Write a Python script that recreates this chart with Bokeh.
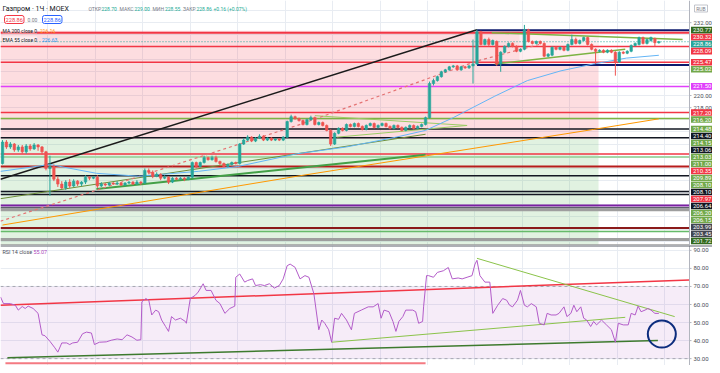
import numpy as np
from bokeh.plotting import figure
from bokeh.models import Range1d, FixedTicker, Label, Span, ColumnDataSource
from bokeh.layouts import column
from bokeh.embed import file_html
from bokeh.resources import INLINE
from bokeh.core.properties import value

FONT = "Roboto"

# ---------------- price data (hourly candles, MOEX GAZP) ----------------
opens = [208.8, 212.33, 211.53, 212.01, 211.05, 211.53, 210.73, 211.69, 211.21, 211.85,
         211.53, 210.73, 207.99, 208.31, 206.22, 205.42, 204.78, 205.74, 205.1, 205.9,
         205.42, 205.74, 206.55, 206.39, 206.55, 205.1, 205.42, 205.26, 205.58, 205.42,
         205.58, 205.26, 205.58, 205.74, 205.42, 205.74, 205.58, 207.67, 207.35, 206.71,
         207.03, 206.39, 206.55, 205.74, 206.39, 206.22, 206.39, 206.22, 206.55, 208.96,
         208.31, 208.96, 209.76, 209.44, 209.76, 209.12, 208.8, 208.31, 208.64, 208.96,
         208.8, 212.01, 212.66, 213.14, 212.5, 212.98, 213.3, 212.66, 212.98, 212.66,
         212.82, 212.66, 213.14, 215.71, 216.52, 216.2, 215.87, 215.23, 216.03, 216.36,
         215.23, 215.55, 215.07, 214.26, 212.01, 213.78, 214.59, 214.26, 215.23, 214.91,
         215.39, 214.91, 214.42, 215.07, 215.39, 214.75, 215.07, 215.39, 214.91, 214.59,
         215.07, 214.75, 214.26, 214.75, 215.07, 214.59, 214.91, 215.23, 216.36, 221.98,
         222.46, 223.11, 223.91, 224.23, 224.72, 224.88, 224.23, 224.72, 224.56, 224.88,
         225.2, 230.5, 228.41, 229.22, 228.41, 228.9, 225.2, 227.13, 228.09, 228.58,
         228.09, 227.29, 227.61, 230.83, 228.9, 228.58, 228.9, 228.58, 226.48, 226.65,
         227.93, 227.61, 227.93, 227.45, 228.41, 229.22, 228.58, 229.06, 229.54, 228.41,
         227.61, 227.29, 227.45, 227.13, 227.45, 227.13, 225.52, 227.13, 226.97, 227.29,
         228.25, 228.41, 229.54, 228.58, 229.06, 229.38, 228.70]
closes = [212.33, 211.53, 212.01, 211.05, 211.53, 210.73, 211.69, 211.21, 211.85, 211.53,
          210.73, 207.99, 208.31, 206.22, 205.42, 204.78, 205.74, 205.1, 205.9, 205.42,
          205.74, 206.55, 206.39, 206.55, 205.1, 205.42, 205.26, 205.58, 205.42, 205.58,
          205.26, 205.58, 205.74, 205.42, 205.74, 205.58, 207.67, 207.35, 206.71, 207.03,
          206.39, 206.55, 205.74, 206.39, 206.22, 206.39, 206.22, 206.55, 208.96, 208.31,
          208.96, 209.76, 209.44, 209.76, 209.12, 208.8, 208.31, 208.64, 208.96, 208.8,
          212.01, 212.66, 213.14, 212.5, 212.98, 213.3, 212.66, 212.98, 212.66, 212.82,
          212.66, 213.14, 215.71, 216.52, 216.2, 215.87, 215.23, 216.03, 216.36, 215.23,
          215.55, 215.07, 214.26, 212.01, 213.78, 214.59, 214.26, 215.23, 214.91, 215.39,
          214.91, 214.42, 215.07, 215.39, 214.75, 215.07, 215.39, 214.91, 214.59, 215.07,
          214.75, 214.26, 214.75, 215.07, 214.59, 214.91, 215.23, 216.36, 221.98, 222.46,
          223.11, 223.91, 224.23, 224.72, 224.88, 224.23, 224.72, 224.56, 224.88, 225.2,
          230.5, 228.41, 229.22, 228.41, 229.06, 225.2, 227.13, 228.09, 228.58, 228.09,
          227.29, 227.61, 230.83, 228.9, 228.58, 228.9, 228.58, 226.48, 226.81, 227.93,
          227.61, 227.93, 227.45, 228.41, 229.22, 228.58, 229.06, 229.54, 228.41, 227.61,
          227.29, 227.45, 227.13, 227.45, 227.13, 225.52, 227.13, 226.97, 227.29, 228.25,
          228.58, 229.54, 228.58, 229.22, 229.54, 228.70, 228.86]
highs = [212.66, 212.66, 212.33, 212.17, 211.85, 211.85, 212.01, 212.01, 212.17, 212.01,
         211.69, 210.89, 210.09, 208.64, 206.71, 205.9, 206.06, 206.22, 206.22, 206.06,
         205.9, 206.87, 206.71, 206.71, 206.87, 205.74, 205.58, 205.74, 205.74, 205.9,
         205.74, 205.74, 205.9, 205.9, 206.06, 205.9, 207.99, 207.99, 207.67, 207.35,
         207.19, 206.87, 206.71, 206.55, 206.55, 206.55, 206.55, 206.71, 209.12, 209.12,
         209.12, 210.09, 209.93, 210.09, 210.09, 209.28, 208.96, 208.8, 209.12, 209.12,
         212.17, 212.98, 213.46, 213.3, 213.14, 213.62, 213.46, 213.14, 213.14, 212.98,
         212.98, 213.3, 215.87, 216.84, 216.68, 216.36, 216.03, 216.2, 216.68, 216.52,
         215.71, 215.71, 215.23, 214.42, 213.94, 214.75, 214.75, 215.39, 215.39, 215.55,
         215.55, 215.07, 215.23, 215.55, 215.55, 215.23, 215.55, 215.55, 215.07, 215.23,
         215.23, 214.91, 214.91, 215.23, 215.23, 215.07, 215.39, 216.52, 222.3, 222.79,
         223.27, 224.07, 224.39, 224.88, 225.04, 225.04, 224.88, 224.88, 225.04, 229.22,
         230.83, 230.67, 229.38, 229.54, 229.22, 229.06, 227.29, 228.25, 228.74, 228.74,
         228.25, 227.77, 231.63, 230.99, 229.06, 229.06, 229.06, 228.74, 226.97, 228.09,
         228.09, 228.09, 228.09, 228.58, 230.02, 229.54, 229.22, 229.7, 229.7, 228.58,
         227.77, 227.61, 227.61, 227.61, 227.61, 227.29, 227.29, 227.29, 227.45, 228.41,
         228.74, 229.7, 229.7, 229.38, 229.7, 229.54, 229.00]
lows = [208.64, 211.21, 211.21, 210.73, 210.73, 210.41, 210.41, 210.89, 211.05, 210.89,
        210.25, 207.67, 203.5, 205.9, 204.94, 204.62, 204.46, 204.78, 204.94, 205.1,
        205.1, 205.42, 206.06, 206.22, 204.78, 204.94, 205.1, 205.1, 205.26, 205.26,
        205.1, 205.1, 205.42, 205.26, 205.26, 205.26, 205.42, 207.03, 206.39, 206.55,
        206.06, 206.22, 205.42, 205.58, 206.06, 206.06, 205.9, 206.06, 206.39, 207.99,
        208.15, 208.8, 209.28, 209.28, 208.96, 208.47, 208.15, 208.15, 208.47, 208.64,
        208.64, 211.85, 212.5, 212.33, 212.33, 212.82, 212.5, 212.5, 212.5, 212.5,
        212.5, 212.5, 212.98, 215.55, 216.03, 215.71, 215.07, 215.07, 215.87, 215.07,
        215.07, 214.91, 214.1, 211.69, 211.85, 213.62, 214.1, 214.1, 214.75, 214.75,
        214.75, 214.26, 214.26, 214.91, 214.59, 214.59, 214.91, 214.75, 214.42, 214.42,
        214.59, 214.1, 214.1, 214.59, 214.42, 214.42, 214.75, 215.07, 216.2, 221.66,
        222.3, 222.95, 223.75, 224.07, 224.56, 224.07, 224.07, 224.39, 224.39, 221.98,
        225.04, 228.25, 228.25, 228.09, 228.25, 224.88, 223.91, 226.97, 227.93, 227.93,
        227.13, 227.13, 227.45, 228.74, 228.41, 228.41, 228.41, 226.32, 226.32, 226.48,
        227.45, 227.45, 227.29, 227.29, 228.25, 228.41, 228.41, 228.9, 228.25, 227.45,
        225.2, 227.13, 226.97, 226.97, 226.97, 223.27, 225.36, 226.81, 226.81, 227.13,
        228.09, 228.25, 228.41, 228.41, 228.9, 228.09, 228.55]

# moving averages (bar index, price)
ma200_x = [0, 74.5, 149.5, 166]
ma200_y = [198.67, 206.71, 214.42, 216.16]
ema55_x = [-0.5, 12, 23.75, 34.5, 49.5, 59.5, 74.5, 87, 99.5, 107, 114, 124.5, 132.75, 141.25, 149.5, 157.75, 166]
ema55_y = [207.51, 208.64, 207.19, 206.71, 207.51, 208.31, 210.41, 211.53, 213.14, 214.26, 216.36, 219.89, 222.46, 224.07, 225.2, 226.16, 226.63]

# horizontal levels drawn on the chart
lvl_price = [230.77, 230.32, 228.09, 225.47, 225.02, 221.50, 217.20, 216.20, 214.48, 213.06, 210.35, 209.89,
             208.30, 206.80, 204.20, 203.70, 201.90, 201.50, 201.20, 198.20, 197.60, 196.30, 195.40]
lvl_start = [120, -0.5, -0.5, -0.5, 120, -0.5, -0.5, -0.5, -0.5, -0.5, -0.5, -0.5,
             -0.5, -0.5, -0.5, -0.5, -0.5, -0.5, -0.5, -0.5, -0.5, -0.5, -0.5]
lvl_color = ["#0d1b6e", "#f23645", "#f23645", "#f23645", "#0d1b6e", "#e040fb", "#f23645", "#7cb342", "#131722", "#131722",
             "#f23645", "#a5d6a7", "#b71c1c", "#131722", "#131722", "#131722", "#7b1fa2", "#5d606b", "#9e9e9e",
             "#8b1a1a", "#66bb6a", "#9e9e9e", "#9e9e9e"]
lvl_width = [2, 2, 1.5, 1.5, 2, 1.5, 1.5, 1.5, 1.5, 1.5, 1.5, 2, 2, 1.5, 1.5, 1.5, 2, 1.5, 3, 2, 1.5, 3, 1.5]
last_price = 228.86

# trend lines (bar index, price)
tl_x0 = [-0.5, -0.5, 23.75, 79, 84.5, 123.75, 124.5]
tl_y0 = [206.22, 203.01, 204.62, 216.68, 213.14, 230.34, 225.2]
tl_x1 = [120, 107, 107, 117.5, 117.5, 172, 157.5]
tl_y1 = [230.83, 213.62, 210.25, 215.07, 215.07, 229.22, 227.61]
tl_color = ["#1b1b1b", "#6d8f3a", "#43a047", "#9ccc65", "#9ccc65", "#7cb342", "#7cb342"]
tl_width = [1.5, 1, 2, 1, 1, 1.5, 1.5]
dash_x = [-0.5, 74.5, 120, 135.75]
dash_y = [199.31, 215.07, 225.68, 228.41]

# short-position tool zones
pos_left, pos_right = -0.5, 150.75
pos_entry, pos_stop = 212.82, 230.67

# price-scale labels (value, background)
axis_labels = ["230.77", "230.32", "228.86", "228.09", "225.47", "225.02", "221.50", "217.20", "216.20",
               "214.48", "214.40", "214.15", "213.06", "213.03", "211.00", "210.35", "209.89", "208.10",
               "208.10", "207.97", "206.64", "206.20", "206.15", "203.99", "203.45", "201.72"]
axis_colors = ["#33691e", "#f23645", "#26a69a", "#f23645", "#f23645", "#72a84a", "#e040fb", "#f23645", "#72a84a",
               "#72a84a", "#131722", "#72a84a", "#131722", "#72a84a", "#72a84a", "#f23645", "#72a84a", "#72a84a",
               "#131722", "#f23645", "#131722", "#72a84a", "#72a84a", "#434651", "#434651", "#33691e"]
price_ticks = [232, 220, 218]

# RSI 14 (bar index, value)
rsi_x = [-0.5, 0.25, 2, 3.25, 4, 5, 5.75, 6.5, 7.75, 9, 10, 10.75, 12, 13.25, 14, 15, 16.25, 17, 17.75, 19,
         20.25, 21.25, 22.5, 23.25, 24.5, 26.25, 27.5, 29, 30.25, 31.5, 32.75, 34, 35, 35.25, 36.25, 37, 37.75,
         38.75, 39.5, 40.25, 41.25, 42, 42.75, 43.75, 45, 46.25, 46.5, 47.5, 48.75, 49.5, 50.75, 51.5, 52.75,
         54, 55, 56.25, 57.5, 58.75, 59, 60, 61.25, 62, 63.25, 64, 65.25, 66.25, 67.5, 68.75, 70, 71, 72, 72.75,
         74, 75.25, 76.5, 77.5, 78.75, 80, 80.75, 81.5, 82.5, 83.25, 84, 85, 85.75, 87, 88.25, 89, 90.75, 92.5,
         93.75, 95, 95.75, 96.5, 97.75, 98.75, 99.5, 100.25, 101.25, 102, 103.75, 104.5, 105.25, 106.25, 106.5,
         107.25, 107.75, 109, 110, 111.5, 112.75, 113.75, 115.25, 116.25, 117.5, 118.75, 119.5, 120, 120.75,
         122, 123.25, 124, 125.25, 126.5, 127.5, 128.25, 129, 130.25, 131, 132, 132.75, 133.75, 135, 135.75,
         137, 137.75, 138.75, 140, 140.75, 142, 142.75, 143.75, 144.5, 145.25, 146.25, 147, 147.75, 148.75,
         149.5, 150.25, 151.5, 152.75, 154, 155, 155.75, 157, 158.25, 159, 160, 160.75, 161.5, 162.5, 163.25,
         164, 165, 166]
rsi_v = [64.2, 60.5, 60.5, 59.6, 56.9, 58.9, 57.8, 59.1, 57.8, 55.1, 43.2, 42.7, 39.6, 36.0, 33.6, 38.7, 38.7,
         37.8, 38.7, 39.1, 43.8, 44.7, 44.2, 37.8, 39.1, 39.3, 40.2, 40.9, 40.5, 43.2, 42.0, 40.2, 40.5, 61.5,
         63.3, 62.4, 54.2, 56.9, 56.0, 51.4, 47.8, 45.1, 53.3, 51.4, 52.4, 50.6, 49.6, 63.3, 65.1, 66.9, 71.5,
         67.8, 67.8, 62.3, 60.5, 55.1, 57.8, 59.1, 75.1, 76.9, 72.4, 73.3, 74.2, 70.5, 71.0, 70.5, 71.5, 69.1,
         70.5, 74.2, 81.5, 82.4, 80.6, 74.2, 76.0, 75.1, 66.0, 46.0, 51.4, 49.6, 46.0, 39.1, 52.4, 51.8, 55.1,
         51.4, 46.0, 55.1, 56.9, 58.7, 58.7, 60.5, 52.4, 56.9, 56.0, 50.6, 45.1, 50.6, 53.3, 56.9, 56.9, 56.0,
         49.6, 50.6, 58.7, 76.0, 76.0, 75.1, 77.8, 78.7, 80.5, 74.2, 74.7, 74.2, 75.1, 76.0, 82.4, 84.5, 76.0,
         72.4, 72.4, 55.1, 59.6, 63.3, 62.4, 59.6, 58.7, 62.4, 67.8, 59.6, 58.7, 60.5, 58.7, 49.6, 48.7, 55.1,
         54.2, 54.2, 55.1, 58.7, 53.3, 55.1, 59.6, 56.0, 58.7, 52.4, 51.4, 47.8, 50.6, 48.7, 51.4, 48.7, 46.0,
         39.1, 49.6, 48.7, 48.7, 55.1, 54.2, 59.1, 56.0, 56.9, 57.8, 56.9, 55.1, 55.07]
rsi_ticks = [30, 40, 50, 60, 70, 80, 90]
# RSI trend lines (bar index, value)
rtl_x0 = [-0.5, 1.25, 83.25, 120, 0.75]
rtl_y0 = [59.6, 30.5, 39.1, 85.6, 27.5]
rtl_x1 = [173.75, 165.75, 157.5, 170, 107]
rtl_y1 = [73.6, 40.0, 52.9, 53.3, 27.5]
rtl_color = ["#f23645", "#3d7a2e", "#8bc34a", "#8bc34a", "#f47a82"]
rtl_width = [1.5, 1.5, 1, 1, 2]
circle_x, circle_y = 166.75, 43.6

# ---------------- layout constants ----------------
W = 712
AXIS_W = 23
PLOT_W = W - AXIS_W
MAIN_H = 245
RSI_H = 120
X0, X1 = -0.5, 173.75
PXX = PLOT_W / (X1 - X0)          # px per bar
XEND = X1 + AXIS_W / PXX          # right edge of the price-scale strip
P_LO, P_HI = 195.3, 235.65
R_LO, R_HI = 26.2, 92.7
UP, DN = "#26a69a", "#ef5350"
GRID = "#e8ecf2"
AXC = "#b2b5be"
TXT = "#4a4e59"
grid_x = [12 * k - 0.5 for k in range(1, 15)]


def make_fig(h, y0, y1):
    f = figure(width=W, height=h, x_range=xr, y_range=Range1d(y0, y1),
               output_backend="svg", toolbar_location=None, x_axis_location=None, y_axis_location=None,
               min_border_left=0, min_border_right=0, min_border_top=0, min_border_bottom=0)
    f.outline_line_color = None
    f.xgrid.ticker = FixedTicker(ticks=grid_x)
    f.grid.grid_line_color = GRID
    return f


def price_strip(f, h, y0, y1, ticks):
    """white price-scale strip on the right with its axis line, ticks and tick labels"""
    f.quad(left=[X1], right=[XEND], bottom=[y0], top=[y1], fill_color="white", line_color=None)
    f.segment(x0=[X1], y0=[y0], x1=[X1], y1=[y1], line_color=AXC, line_width=1)
    f.segment(x0=[X1] * len(ticks), y0=ticks, x1=[X1 + 2 / PXX] * len(ticks), y1=ticks,
              line_color=AXC, line_width=1)
    f.text(x=[X1] * len(ticks), y=ticks, text=[f"{t:.2f}" for t in ticks], x_offset=4,
           text_font=value(FONT), text_font_size="6px", text_color=TXT,
           text_baseline="middle", text_align="left")


xr = Range1d(X0, XEND)
p = make_fig(MAIN_H, P_LO, P_HI)
p.ygrid.ticker = FixedTicker(ticks=list(range(196, 236, 2)))

# position zones
p.quad(left=[pos_left], right=[pos_right], bottom=[pos_entry], top=[pos_stop], fill_color="#f23645",
       fill_alpha=0.17, line_color=None)
p.quad(left=[pos_left], right=[pos_right], bottom=[P_LO], top=[pos_entry], fill_color="#4caf50",
       fill_alpha=0.17, line_color=None)
p.quad(left=[130.75], right=[pos_right], bottom=[225.2], top=[pos_stop], fill_color="white",
       fill_alpha=0.5, line_color=None)

# levels
for pr, st, col, lw in zip(lvl_price, lvl_start, lvl_color, lvl_width):
    p.segment(x0=[st], y0=[pr], x1=[X1], y1=[pr], line_color=col, line_width=lw)
p.segment(x0=[X0], y0=[last_price], x1=[X1], y1=[last_price], line_color=UP, line_width=1, line_dash="1 2")

# trend lines
for a, b, c_, d, col, lw in zip(tl_x0, tl_y0, tl_x1, tl_y1, tl_color, tl_width):
    p.segment(x0=[a], y0=[b], x1=[c_], y1=[d], line_color=col, line_width=lw)
p.line(dash_x, dash_y, line_color="#e57373", line_width=1.2, line_dash="3 3")

# moving averages
p.line(ma200_x, ma200_y, line_color="#ff9800", line_width=1)
p.line(ema55_x, ema55_y, line_color="#64b5f6", line_width=1)

# candles
o = np.array(opens); c = np.array(closes); h = np.array(highs); l = np.array(lows)
idx = np.arange(len(o))
src = ColumnDataSource(dict(x=idx, h=h, l=l, top=np.maximum(o, c), bot=np.minimum(o, c),
                            col=np.where(c >= o, UP, DN)))
p.segment('x', 'h', 'x', 'l', source=src, line_color='col', line_width=1)
p.vbar('x', 0.62, 'top', 'bot', source=src, fill_color='col', line_color='col', line_width=0.6)

# price scale strip
price_strip(p, MAIN_H, P_LO, P_HI, price_ticks)

# coloured level labels, stacked the way the terminal does it
PXY = MAIN_H / (P_HI - P_LO)
gap = 7.0 / PXY
half = 3.3 / PXY
ys = []
prev = None
for txt in axis_labels:
    v = float(txt)
    y = v if prev is None else min(v, prev - gap)
    ys.append(y)
    prev = y
ys = np.array(ys)
p.quad(left=[X1 + 1.5 / PXX] * len(ys), right=[XEND - 0.5 / PXX] * len(ys), bottom=ys - half, top=ys + half,
       fill_color=axis_colors, line_color=None)
p.text(x=[X1] * len(ys), y=ys, text=axis_labels, x_offset=3.5, text_font=value(FONT),
       text_font_size="6px", text_color="white", text_baseline="middle", text_align="left")
# currency box
rub_y = P_HI - 8 / PXY
p.rect(x=[X1 + 11.5 / PXX], y=[rub_y], width=[13], height=[7], width_units="screen", height_units="screen",
       fill_color="white", line_color=AXC, line_width=0.8)
p.text(x=[X1 + 11.5 / PXX], y=[rub_y], text=["RUB"], text_font=value(FONT), text_font_size="5px",
       text_color="#787b86", text_baseline="middle", text_align="center")


def lab(fig, fh, x, ytop, text, color, size="5px", **kw):
    fig.add_layout(Label(x=x, y=fh - ytop, x_units="screen", y_units="screen", text=text,
                         text_color=color, text_font=FONT, text_font_size=size,
                         text_baseline="middle", text_align="left", **kw))


GRAY = "#787b86"
TEAL = "#22ab94"
lab(p, MAIN_H, 2, 8, "Газпром · 1Ч · MOEX", "#131722", "7px")
lab(p, MAIN_H, 88, 8, "ОТКР", GRAY)
lab(p, MAIN_H, 101, 8, "228.70", TEAL)
lab(p, MAIN_H, 119, 8, "МАКС", GRAY)
lab(p, MAIN_H, 134, 8, "229.00", TEAL)
lab(p, MAIN_H, 152, 8, "МИН", GRAY)
lab(p, MAIN_H, 164.5, 8, "228.55", TEAL)
lab(p, MAIN_H, 182.5, 8, "ЗАКР", GRAY)
lab(p, MAIN_H, 196, 8, "228.86", TEAL)
lab(p, MAIN_H, 213, 8, "+0.16 (+0.07%)", TEAL)
lab(p, MAIN_H, 4, 19, "228.86", "#f23645", "5.7px", border_line_color="#f23645", background_fill_color="white",
    padding=(1, 2), border_radius=2)
lab(p, MAIN_H, 27, 19, "0.00", GRAY, "5px")
lab(p, MAIN_H, 42, 19, "228.86", "#2962ff", "5.7px", border_line_color="#2962ff", background_fill_color="white",
    padding=(1, 2), border_radius=2)
lab(p, MAIN_H, 2, 30, "MA 200 close 0", "#131722", "5px", background_fill_color="white", background_fill_alpha=0.5)
lab(p, MAIN_H, 39.5, 30, "216.16", "#ff9800", "5px")
lab(p, MAIN_H, 2, 39, "EMA 55 close 0", "#131722", "5px", background_fill_color="white", background_fill_alpha=0.5)
lab(p, MAIN_H, 41.5, 39, "226.63", "#2196f3", "5px")

# ---------------- RSI pane ----------------
r = make_fig(RSI_H, R_LO, R_HI)
r.ygrid.ticker = FixedTicker(ticks=rsi_ticks)

r.quad(left=[X0], right=[X1], bottom=[30], top=[70], fill_color="#9c27b0", fill_alpha=0.09, line_color=None)
for lvl in (70, 30):
    r.segment(x0=[X0], y0=[lvl], x1=[X1], y1=[lvl], line_color="#9598a1", line_width=0.8, line_dash="3 3")
for a, b, c_, d, col, lw in zip(rtl_x0, rtl_y0, rtl_x1, rtl_y1, rtl_color, rtl_width):
    r.segment(x0=[a], y0=[b], x1=[c_], y1=[d], line_color=col, line_width=lw)
r.line(rsi_x, rsi_v, line_color="#b35cc9", line_width=1)
r.ellipse(x=[circle_x], y=[circle_y], width=[28], height=[27], width_units="screen", height_units="screen",
          fill_color=None, line_color="#0d2d7e", line_width=2)
price_strip(r, RSI_H, R_LO, R_HI, rsi_ticks)
r.add_layout(Span(location=R_HI, dimension="width", line_color="#5d606b", line_width=2))
lab(r, RSI_H, 2, 6, "RSI 14 close", "#4a4e59", "5.4px")
lab(r, RSI_H, 33, 6, "55.07", "#ab47bc", "5.4px")

layout = column(p, r, spacing=0)
open("out.html", "w").write(file_html(layout, INLINE))
